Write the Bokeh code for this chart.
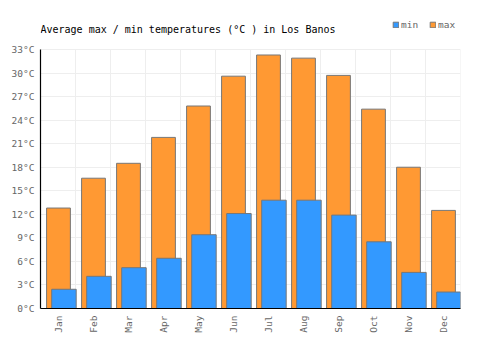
import numpy as np
from bokeh.plotting import figure
from bokeh.models import (ColumnDataSource, FixedTicker, Label, Legend, LegendItem,
                          Range1d, CustomJSTickFormatter)
from bokeh.embed import file_html
from bokeh.resources import INLINE

months = ["Jan", "Feb", "Mar", "Apr", "May", "Jun", "Jul", "Aug", "Sep", "Oct", "Nov", "Dec"]
t_max = [12.8, 16.6, 18.5, 21.8, 25.8, 29.6, 32.3, 31.9, 29.7, 25.4, 18.0, 12.5]
t_min = [2.45, 4.1, 5.2, 6.4, 9.4, 12.1, 13.8, 13.8, 11.9, 8.5, 4.6, 2.1]
y_ticks = list(range(0, 34, 3))
Y_TOP = 33

idx = np.arange(len(months))
src = ColumnDataSource(dict(
    xmax=idx + 0.514,
    xmin=idx + 0.67,
    tmax=t_max,
    tmin=t_min,
))

FONT = "DejaVu Sans Mono"
GRAY = "#666666"

W, H = 500, 350
TOP, BOTTOM = 10, 42
frame_h = H - TOP - BOTTOM
# plot area reaches above the 33°C line to leave room for the title/legend
y_end = Y_TOP * frame_h / 259.0

p = figure(width=W, height=H, output_backend="svg", toolbar_location=None,
           x_range=Range1d(0, len(months)), y_range=Range1d(0, y_end),
           min_border_left=40, min_border_right=40, min_border_top=TOP,
           min_border_bottom=BOTTOM)
p.outline_line_color = None
p.background_fill_color = "white"

# vertical grid lines between months, limited to the 0..33 area
gx = list(range(0, len(months) + 1))
p.segment(x0=gx, y0=[0] * len(gx), x1=gx, y1=[Y_TOP] * len(gx),
          line_color="#eeeeee", line_width=1)

r_max = p.vbar(x="xmax", top="tmax", bottom=0, width=0.68, source=src,
               fill_color="#ff9933", line_color="#777777", line_width=1)
r_min = p.vbar(x="xmin", top="tmin", bottom=0, width=0.70, source=src,
               fill_color="#3399ff", line_color="#777777", line_width=1)

# axes
p.xaxis.ticker = FixedTicker(ticks=list(idx + 0.5))
p.xaxis.major_label_overrides = {float(i + 0.5): m for i, m in enumerate(months)}
p.xaxis.major_label_orientation = np.pi / 2
p.xaxis.major_tick_line_color = None
p.xaxis.minor_tick_line_color = None
p.xaxis.major_tick_out = 0
p.xaxis.major_label_standoff = 7
p.xaxis.axis_line_color = "black"
p.xaxis.axis_line_width = 1.2

p.yaxis.ticker = FixedTicker(ticks=y_ticks)
p.yaxis.bounds = (0, Y_TOP)
p.yaxis.formatter = CustomJSTickFormatter(code="return tick.toFixed(0) + '\u00b0C';")
p.yaxis.major_tick_line_color = None
p.yaxis.minor_tick_line_color = None
p.yaxis.major_tick_out = 0
p.yaxis.major_label_standoff = 6
p.yaxis.axis_line_color = "black"
p.yaxis.axis_line_width = 1.2

for ax in (p.xaxis, p.yaxis):
    ax.major_label_text_font = FONT
    ax.major_label_text_font_size = "9.5px"
    ax.major_label_text_color = GRAY

# grids
p.xgrid.grid_line_color = None
p.ygrid.ticker = FixedTicker(ticks=y_ticks)
p.ygrid.grid_line_color = "#eeeeee"
p.ygrid.grid_line_width = 1

# title
p.add_layout(Label(x=0, y=279.5, x_units="screen", y_units="screen",
                   text="Average max / min temperatures (\u00b0C ) in Los Banos",
                   text_font=FONT, text_font_size="10px", text_color="black",
                   text_baseline="alphabetic"))

# legend
legend = Legend(items=[LegendItem(label="min", renderers=[r_min]),
                       LegendItem(label="max", renderers=[r_max])],
                location=(352, 278), orientation="horizontal",
                glyph_width=7, glyph_height=7, label_height=10, label_standoff=2,
                spacing=8, padding=0, margin=0,
                border_line_color=None, background_fill_alpha=0,
                label_text_font=FONT, label_text_font_size="9.5px",
                label_text_color=GRAY)
p.add_layout(legend, "center")

open("out.html", "w").write(file_html(p, INLINE))
